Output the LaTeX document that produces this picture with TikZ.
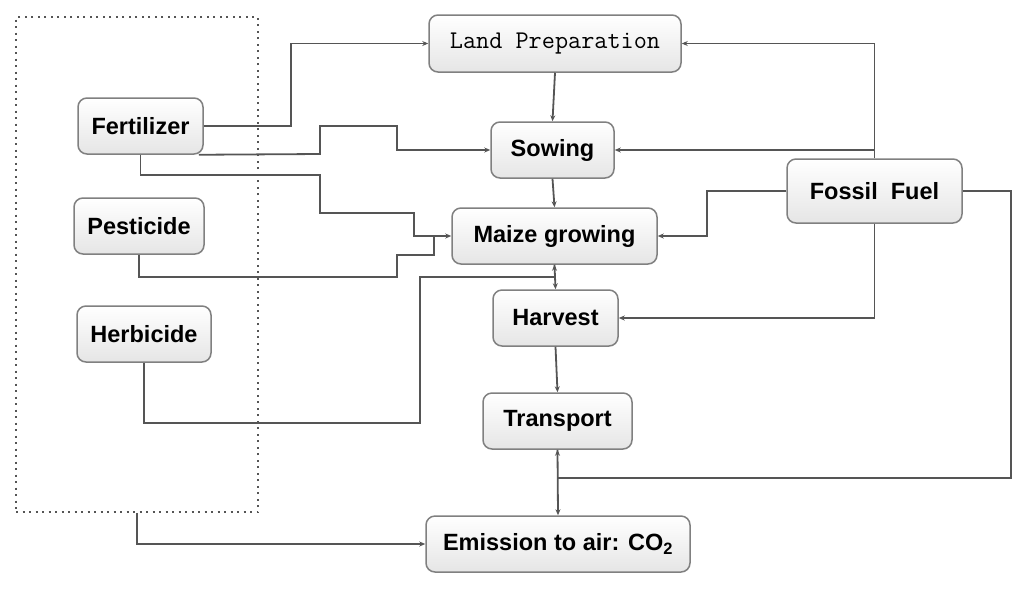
\documentclass[tikz,border=0pt]{standalone}
\usepackage{fontspec}
\setmainfont{Liberation Sans}
\usetikzlibrary{arrows.meta,shadings}
\definecolor{ln}{HTML}{555555}
\definecolor{bd}{HTML}{808080}
\tikzset{
  box/.style={draw=bd, line width=1.5pt, rounded corners=9pt, top color=white, bottom color=black!10,
    inner sep=0pt, font=\bfseries\fontsize{23.5}{28}\selectfont, text=black},
  conn/.style={draw=ln, line width=1.8pt},
  arr/.style={conn, -{Stealth[length=6pt,width=5pt]}},
  grpbox/.style={draw=ln, line width=2pt, dash pattern=on 2pt off 4.5pt, inner sep=0pt}
}
\begin{document}
\begin{tikzpicture}[x=1pt,y=-1pt]
\useasboundingbox (0,0) rectangle (1024,590);
% group box
\node[grpbox, minimum width=242pt, minimum height=495pt] (grp) at (137,264.5) {};
% nodes
\node[box, minimum width=252pt, minimum height=57pt, font=\ttfamily\fontsize{25.5}{30}\selectfont] (land) at (555,43.5) {Land Preparation};
\node[box, minimum width=123pt, minimum height=56pt] (sow) at (552.5,150) {Sowing};
\node[box, minimum width=205pt, minimum height=56pt] (maize) at (554.5,236) {Maize growing};
\node[box, minimum width=125pt, minimum height=56pt] (harv) at (555.5,318) {Harvest};
\node[box, minimum width=149pt, minimum height=56pt] (trans) at (557.5,421) {Transport};
\node[box, minimum width=264pt, minimum height=56pt] (emis) at (558,544) {Emission to air: CO\textsubscript{2}};
\node[box, minimum width=125pt, minimum height=56pt] (fert) at (140.5,126) {Fertilizer};
\node[box, minimum width=130pt, minimum height=56pt] (pest) at (139,226) {Pesticide};
\node[box, minimum width=134pt, minimum height=56pt] (herb) at (144,334) {Herbicide};
\node[box, minimum width=175pt, minimum height=64pt] (fossil) at (874.5,191) {Fossil\ \ Fuel};
% junction coordinates
\coordinate (jm) at (434,236);
\coordinate (jh) at (554.5,277);
\coordinate (jt) at (557.5,478);
% main chain
\draw[arr] (land.south) -- (sow.north);
\draw[arr] (sow.south) -- (maize.north);
\draw[arr] (maize.south) -- (harv.north);
\draw[arr] (harv.south) -- (trans.north);
\draw[arr] (trans.south) -- (emis.north);
% inputs
\draw[arr] (fert.east) -- (291,126) |- (land.west);
\draw[arr] ([xshift=-5pt]fert.south east) -- (320,154) -- (320,126) -- (397,126) |- (sow.west);
\draw[arr] (fert.south) |- (320,175) |- (414,213) |- (maize.west);
\draw[conn] (pest.south) |- (397,277) |- (434,255) -- (jm);
\draw[arr] (herb.south) |- (420,423) |- (jh) -- (maize.south);
% fossil fuel
\draw[arr] (fossil.north) |- (land.east);
\draw[arr] (fossil.north |- sow.east) -- (sow.east);
\draw[arr] (fossil.west) -- (707,191) |- (maize.east);
\draw[arr] (fossil.south) |- (harv.east);
\draw[arr] (fossil.east) -- (1011,191) |- (jt) -- (trans.south);
% group to emission
\draw[arr] (grp.south) |- (emis.west);
\end{tikzpicture}
\end{document}
